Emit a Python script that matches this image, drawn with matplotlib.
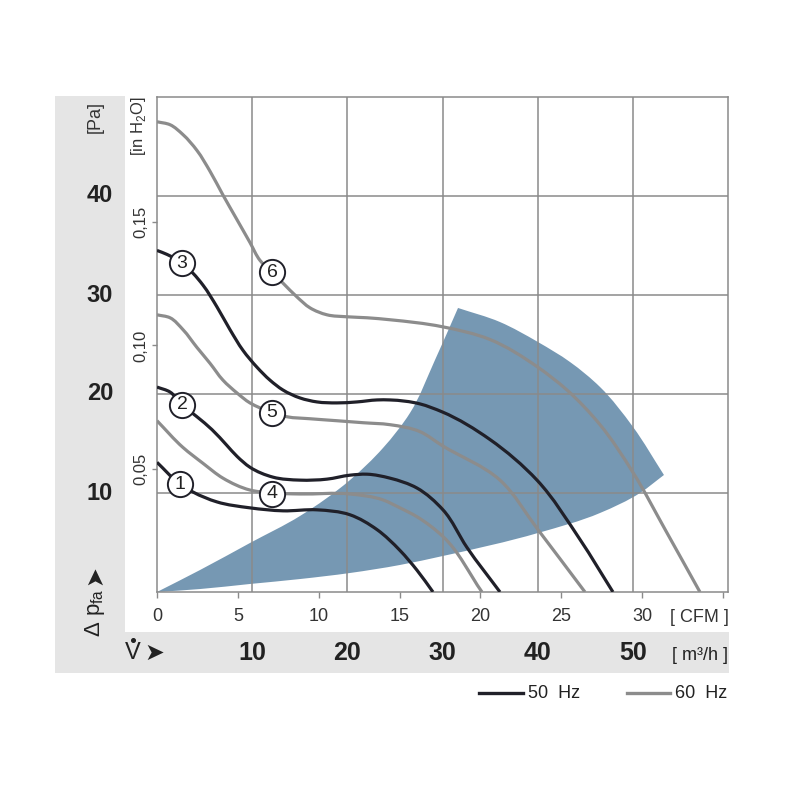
import matplotlib
matplotlib.use('Agg')
import matplotlib.pyplot as plt
from matplotlib.patches import Rectangle, PathPatch
from matplotlib.path import Path
import numpy as np

plt.rcParams['font.family'] = ['Liberation Sans', 'DejaVu Sans']

# flow in m3/h, pressure in Pa
q1 = [0, 2.42, 3.78, 6.30, 9.77, 13.24, 16.81, 20.28, 23.12, 25.53, 27.32, 29.0]
p1 = [13.1, 10.9, 10.1, 9.1, 8.5, 8.2, 8.3, 7.8, 6.3, 4.2, 2.2, 0]
q2 = [0, 1.37, 2.63, 4.20, 5.78, 7.35, 8.41, 9.77, 12.19, 15.03, 17.86, 20.28, 22.07, 24.48, 27.32, 30.05, 32.57, 36.04]
p2 = [20.7, 20.2, 18.9, 17.7, 16.4, 14.8, 13.7, 12.6, 11.6, 11.3, 11.4, 11.8, 11.9, 11.5, 10.5, 8.3, 4.5, 0]
q3 = [0, 1.05, 2.63, 3.78, 4.83, 6.30, 7.67, 9.04, 10.51, 11.87, 13.24, 15.03, 16.81, 18.91,
      21.02, 23.12, 24.48, 27.63, 29.95, 34.99, 39.93, 44.45, 47.91]
p3 = [34.5, 34.1, 33.2, 32.2, 31.0, 28.8, 26.5, 24.4, 22.7, 21.4, 20.4, 19.6, 19.2, 19.1,
      19.2, 19.4, 19.4, 19.0, 18.2, 15.4, 11.3, 5.3, 0]
q4 = [0, 2.73, 4.83, 6.93, 9.77, 12.08, 15.03, 20.28, 23.75, 25.53, 27.32, 30.05, 34.15]
p4 = [17.3, 14.6, 13.0, 11.5, 10.3, 10.0, 9.9, 9.9, 9.3, 8.5, 7.6, 5.6, 0]
q5 = [0, 1.37, 2.73, 4.20, 5.57, 6.93, 8.41, 9.77, 10.82, 12.08, 13.66, 16.08, 18.91, 21.65,
      24.48, 27.63, 29.95, 36.04, 40.03, 44.97]
p5 = [28.0, 27.7, 26.5, 24.7, 23.1, 21.4, 20.1, 19.1, 18.6, 18.1, 17.7, 17.5, 17.3, 17.1,
      16.9, 16.2, 14.8, 11.3, 6.3, 0]
q6 = [0, 1.37, 2.73, 4.20, 5.57, 6.93, 8.41, 9.77, 10.82, 12.08, 13.24, 14.71, 16.08, 17.86,
      19.96, 22.07, 24.48, 29.95, 35.0, 40.03, 43.08, 46.55, 50.0, 53.4, 57.05]
p6 = [47.5, 47.2, 46.2, 44.6, 42.5, 40.1, 37.6, 35.3, 33.5, 32.3, 31.2, 29.8, 28.7, 28.0,
      27.8, 27.7, 27.5, 26.8, 25.5, 22.7, 20.4, 16.9, 12.1, 6.3, 0]

curves_50 = [(q1, p1), (q2, p2), (q3, p3)]
curves_60 = [(q4, p4), (q5, p5), (q6, p6)]

# curve numbers and where the circles sit
label_nums = ['1', '2', '3', '4', '5', '6']
label_q = [2.42, 2.63, 2.63, 12.08, 12.08, 12.08]
label_p = [10.9, 18.9, 33.2, 9.9, 18.1, 32.3]

# working range (blue area): upper edge, outer arc, lower edge
area_upper_q = [0, 4.52, 9.77, 15.03, 20.28, 23.75, 26.58, 29.21, 31.63]
area_upper_p = [0, 2.22, 4.95, 7.68, 11.31, 14.55, 18.08, 23.43, 28.69]
area_arc_q = [31.63, 36.04, 40.03, 43.40, 46.55, 50.02, 53.27]
area_arc_p = [28.69, 27.27, 25.25, 23.23, 20.71, 16.67, 11.82]
area_lower_q = [53.27, 50.75, 46.55, 40.03, 30.05, 25.53, 20.28, 15.03, 9.77, 4.52, 0]
area_lower_p = [11.82, 10.0, 7.98, 5.96, 3.64, 2.73, 1.92, 1.31, 0.81, 0.30, 0]

pa_ticks = [10, 20, 30, 40]
inh2o_ticks = [0.05, 0.10, 0.15]
inh2o_labels = ['0,05', '0,10', '0,15']
cfm_ticks = [0, 5, 10, 15, 20, 25, 30, 35]
cfm_labels = ['0', '5', '10', '15', '20', '25', '30', '']
m3h_ticks = [10, 20, 30, 40, 50]

PA_PER_INH2O = 249.089
M3H_PER_CFM = 1.699

dark = '#202029'
grey = '#8c8c8c'
gridc = '#8a8a8a'
band = '#e5e5e5'

# roughly the pixel scale of each axis, so the curve smoothing is isotropic
SX, SY = 9.52, 9.9


def bezier_segments(xs, ys):
    """cubic bezier vertices through the read points (catmull-rom style)"""
    P = np.column_stack([np.asarray(xs) * SX, np.asarray(ys) * SY])
    n = len(P)
    d = np.linalg.norm(np.diff(P, axis=0), axis=1)
    v = np.zeros_like(P)
    v[0] = (P[1] - P[0]) / d[0]
    v[-1] = (P[-1] - P[-2]) / d[-1]
    for i in range(1, n - 1):
        a = (P[i] - P[i - 1]) / d[i - 1]
        b = (P[i + 1] - P[i]) / d[i]
        v[i] = (a * d[i] + b * d[i - 1]) / (d[i - 1] + d[i])
    verts = [P[0]]
    for i in range(n - 1):
        verts.append(P[i] + v[i] * d[i] / 3)
        verts.append(P[i + 1] - v[i + 1] * d[i] / 3)
        verts.append(P[i + 1])
    verts = np.array(verts) / [SX, SY]
    return verts


def smooth_line(xs, ys):
    verts = bezier_segments(xs, ys)
    codes = [Path.MOVETO] + [Path.CURVE4] * (len(verts) - 1)
    return Path(verts, codes)


fig = plt.figure(figsize=(8, 8), dpi=100)

# background in pixel coordinates
bg = fig.add_axes([0, 0, 1, 1], zorder=-1)
bg.set_xlim(0, 800)
bg.set_ylim(800, 0)
bg.axis('off')
bg.add_patch(Rectangle((55, 96), 70, 577, color=band, lw=0))
bg.add_patch(Rectangle((55, 632), 674, 41, color=band, lw=0))

bg.text(95, 117, '[Pa]', rotation=90, ha='center', va='center', fontsize=13, color='#333333')
bg.text(139, 126, '[in H$_\\mathregular{2}$O]', rotation=90, ha='center', va='center',
        fontsize=12, color='#333333')
bg.text(95, 613, '\u0394 p$_{\\mathregular{fa}}$', rotation=90, ha='center', va='center',
        fontsize=16, color='#222222')
bg.text(94, 575, '\u27a4', rotation=90, ha='center', va='center', fontsize=17,
        color='#222222', family='DejaVu Sans')
bg.text(133, 653, 'V', ha='center', va='center', fontsize=17, color='#222222')
bg.plot([133], [640], 'o', ms=2.6, color='#222222')
bg.text(154, 653, '\u27a4', ha='center', va='center', fontsize=17, color='#222222',
        family='DejaVu Sans')
bg.text(672, 656, '[ m\u00b3/h ]', ha='left', va='center', fontsize=13, color='#222222')
bg.text(670, 617, '[ CFM ]', ha='left', va='center', fontsize=13, color='#333333')

# legend
bg.plot([479, 523], [693, 693], color=dark, lw=2.4)
bg.text(528, 693, '50  Hz', ha='left', va='center', fontsize=13, color='#222222')
bg.plot([627, 670], [693, 693], color=grey, lw=2.4)
bg.text(675, 693, '60  Hz', ha='left', va='center', fontsize=13, color='#222222')

ax = fig.add_axes([157 / 800, 1 - 592 / 800, 571 / 800, 495 / 800])
ax.set_xlim(0, 60)
ax.set_ylim(0, 50)

# blue working range, three smooth edges joined at the corners
up = bezier_segments(area_upper_q, area_upper_p)
arc = bezier_segments(area_arc_q, area_arc_p)
low = bezier_segments(area_lower_q, area_lower_p)
verts = np.vstack([up, arc[1:], low[1:], up[:1]])
codes = [Path.MOVETO] + [Path.CURVE4] * (len(verts) - 2) + [Path.CLOSEPOLY]
ax.add_patch(PathPatch(Path(verts, codes), facecolor='#7698b3', lw=0, zorder=1))

for q in m3h_ticks:
    ax.axvline(q, color=gridc, lw=1.1, zorder=2)
for p in pa_ticks:
    ax.axhline(p, color=gridc, lw=1.1, zorder=2)

for q, p in curves_50:
    ax.add_patch(PathPatch(smooth_line(q, p), facecolor='none', edgecolor=dark, lw=2.3,
                           zorder=3, capstyle='butt'))
for q, p in curves_60:
    ax.add_patch(PathPatch(smooth_line(q, p), facecolor='none', edgecolor=grey, lw=2.3,
                           zorder=3, capstyle='butt'))

ax.scatter(label_q, label_p, s=330, facecolor='white', edgecolor=dark, lw=1.4, zorder=4)
for n, q, p in zip(label_nums, label_q, label_p):
    ax.text(q, p, n, ha='center', va='center', fontsize=14, color='#222222', zorder=5)

for s in ax.spines.values():
    s.set_color(gridc)
    s.set_linewidth(1.1)

ax.set_xticks([c * M3H_PER_CFM for c in cfm_ticks])
ax.set_xticklabels([])
ax.set_yticks([v * PA_PER_INH2O for v in inh2o_ticks])
ax.set_yticklabels([])
ax.tick_params(axis='x', direction='out', length=4.5, width=1, color=gridc)
ax.tick_params(axis='y', direction='out', length=3.5, width=1, color=gridc)

xt = ax.get_xaxis_transform()
yt = ax.get_yaxis_transform()
for c, lab in zip(cfm_ticks, cfm_labels):
    ax.text(c * M3H_PER_CFM, -0.0505, lab, transform=xt, ha='center', va='center',
            fontsize=13, color='#333333', clip_on=False)
for q in m3h_ticks:
    ax.text(q, -0.123, str(q), transform=xt, ha='center', va='center',
            fontsize=18, fontweight='bold', color='#222222', clip_on=False)
for v, lab in zip(inh2o_ticks, inh2o_labels):
    ax.text(-0.028, v * PA_PER_INH2O, lab, transform=yt, rotation=90, ha='center', va='center',
            fontsize=12, color='#333333', clip_on=False)
for p in pa_ticks:
    ax.text(-0.10, p, str(p), transform=yt, ha='center', va='center',
            fontsize=17, fontweight='bold', color='#222222', clip_on=False)

fig.savefig('out.png', dpi=100)
